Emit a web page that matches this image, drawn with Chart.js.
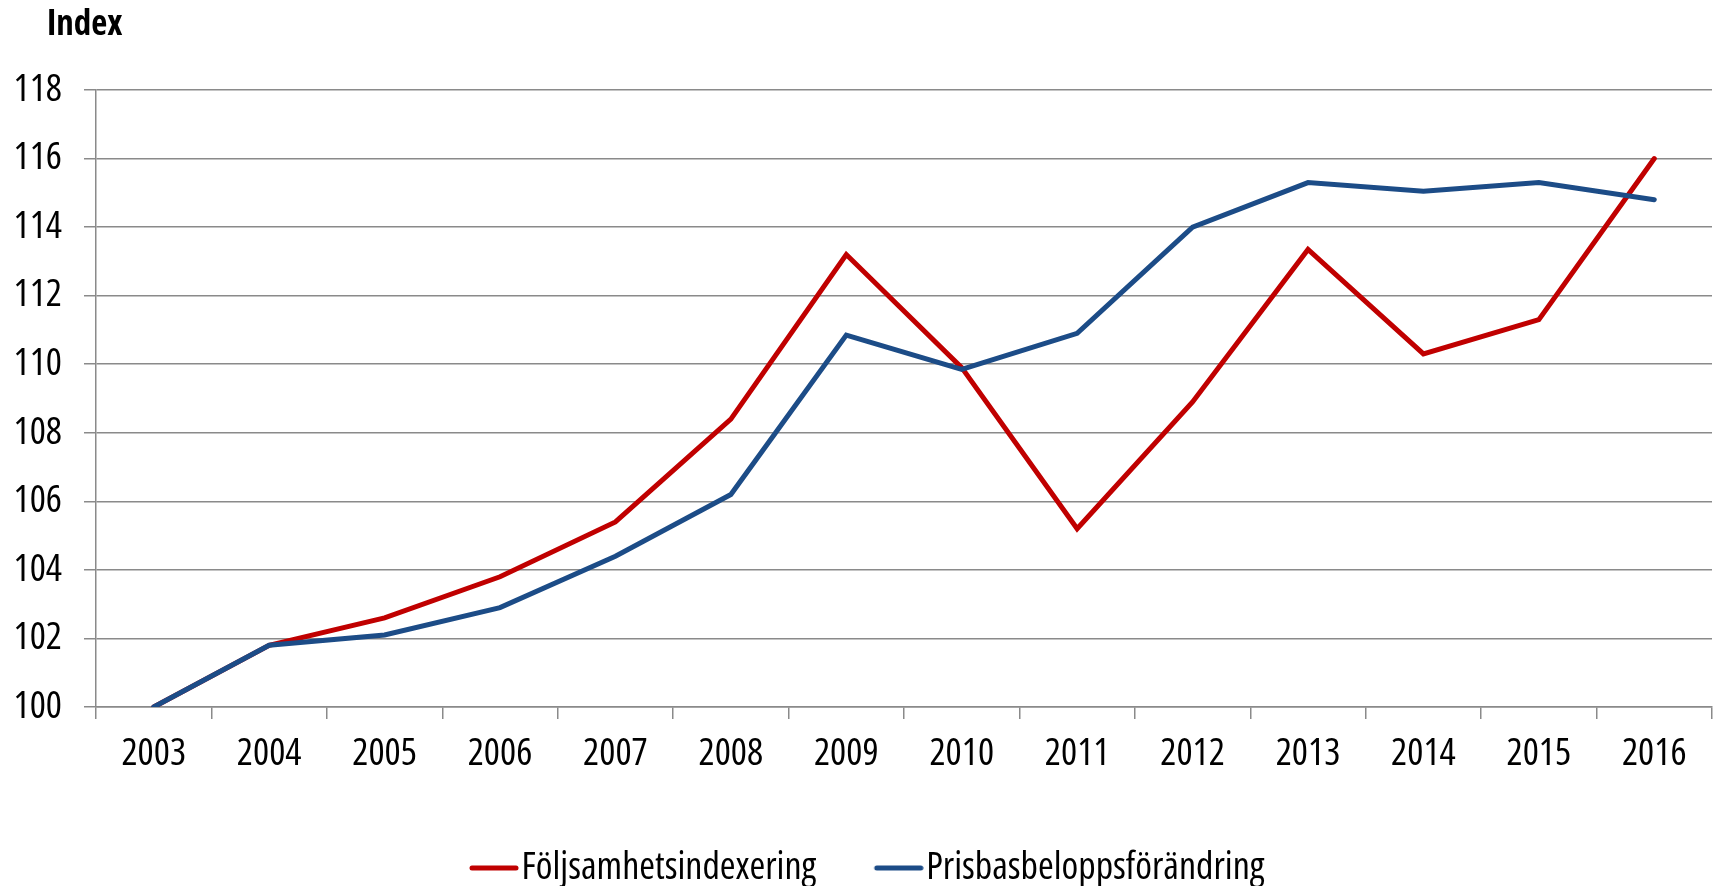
<!DOCTYPE html>
<html>
<head>
<meta charset="utf-8">
<script src="https://cdn.jsdelivr.net/npm/chart.js@4"></script>
<style>
  html, body { margin: 0; padding: 0; background: #ffffff; }
  #wrap { width: 1719px; height: 886px; position: relative; }
</style>
</head>
<body>
<div id="wrap"><canvas id="c" width="1719" height="886"></canvas></div>
<script>
const years = ['2003','2004','2005','2006','2007','2008','2009','2010','2011','2012','2013','2014','2015','2016'];
const foljsamhet = [100, 101.8, 102.6, 103.8, 105.4, 108.4, 113.2, 109.9, 105.2, 108.9, 113.35, 110.3, 111.3, 116.0];
const prisbasbelopp = [100, 101.8, 102.1, 102.9, 104.4, 106.2, 110.85, 109.85, 110.9, 114.0, 115.3, 115.05, 115.3, 114.8];
const yTicks = [100, 102, 104, 106, 108, 110, 112, 114, 116, 118];
const seriesNames = ['Följsamhetsindexering', 'Prisbasbeloppsförändring'];
const seriesColors = ['#c00000', '#1c4c87'];
const yAxisTitle = 'Index';

const FAMILY = "'Open Sans', sans-serif";
const STRETCH = 'condensed';
const FONT_SIZE = 38;
const GRID = '#8a8a8a';
const LEGEND_BOX = 33;
const LEGEND_SHIFT = 11;

// legend marker: a rounded line slightly longer than the legend box, so the gap to the text is small
function legendLine(color) {
  const c = document.createElement('canvas');
  c.width = 66; c.height = 8;
  const g = c.getContext('2d');
  g.strokeStyle = color; g.lineWidth = 5; g.lineCap = 'round';
  g.beginPath(); g.moveTo(19, 4); g.lineTo(63, 4); g.stroke();
  return c;
}

const titlePlugin = {
  id: 'cornerTitle',
  afterLayout(chart) {
    if (chart.legend) { chart.legend.left += LEGEND_SHIFT; chart.legend.right += LEGEND_SHIFT; }
  },
  afterDraw(chart) {
    const ctx = chart.ctx;
    ctx.save();
    ctx.font = "bold " + STRETCH + " 35px " + FAMILY;
    ctx.fillStyle = '#000';
    ctx.textAlign = 'left';
    ctx.textBaseline = 'alphabetic';
    ctx.fillText(yAxisTitle, 47, 35);
    ctx.restore();
  }
};

new Chart(document.getElementById('c'), {
  type: 'line',
  data: {
    labels: years,
    datasets: [
      { label: seriesNames[0], data: foljsamhet, borderColor: seriesColors[0], backgroundColor: seriesColors[0], order: 1,
        borderWidth: 5, pointRadius: 0, tension: 0, borderCapStyle: 'round', borderJoinStyle: 'miter' },
      { label: seriesNames[1], data: prisbasbelopp, borderColor: seriesColors[1], backgroundColor: seriesColors[1], order: 0,
        borderWidth: 5, pointRadius: 0, tension: 0, borderCapStyle: 'round', borderJoinStyle: 'miter' }
    ]
  },
  plugins: [titlePlugin],
  options: {
    responsive: false,
    animation: false,
    layout: { padding: { left: 0, right: 7, top: 90, bottom: -11 } },
    plugins: {
      title: { display: false },
      legend: {
        position: 'bottom',
        labels: {
          usePointStyle: true, pointStyleWidth: LEGEND_BOX,
          color: '#000', padding: 58,
          font: { family: FAMILY, size: FONT_SIZE, weight: STRETCH },
          sort: (a, b) => a.datasetIndex - b.datasetIndex,
          generateLabels(chart) {
            const items = Chart.defaults.plugins.legend.labels.generateLabels(chart);
            return items.map((it) => Object.assign(it, { pointStyle: legendLine(seriesColors[it.datasetIndex]) }));
          }
        }
      },
      tooltip: { enabled: false }
    },
    scales: {
      x: {
        type: 'category',
        offset: true,
        grid: { display: true, drawOnChartArea: false, drawTicks: true, tickLength: 12, offset: true, color: GRID, lineWidth: 1.5 },
        border: { display: true, color: GRID, width: 1.5 },
        ticks: { color: '#000', padding: 12, maxRotation: 0, autoSkip: false, font: { family: FAMILY, size: FONT_SIZE, weight: STRETCH } },
        afterFit: (s) => { s.height = 84; }
      },
      y: {
        min: 100, max: 118,
        afterBuildTicks: (s) => { s.ticks = yTicks.map(v => ({ value: v })); },
        grid: { color: GRID, lineWidth: 1.5, drawTicks: true, tickLength: 12 },
        border: { display: true, color: GRID, width: 1.5 },
        ticks: { color: '#000', padding: 22, font: { family: FAMILY, size: FONT_SIZE, weight: STRETCH } },
        afterFit: (s) => { s.width = 96; }
      }
    }
  }
});
</script>
</body>
</html>
